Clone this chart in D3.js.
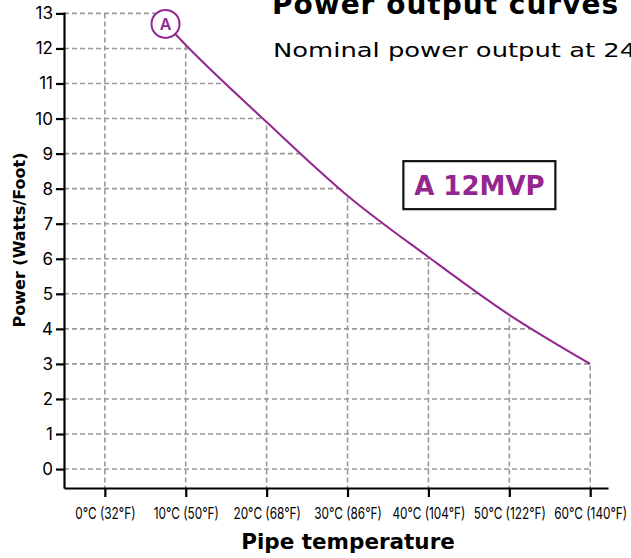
<!DOCTYPE html>
<html lang="en">
<head>
  <meta charset="UTF-8">
  <title>Power output curves</title>
  <script src="https://d3js.org/d3.v7.min.js"></script>
  <style>
    body { margin: 0; background: #fff; }
    svg { display: block; }
  </style>
</head>
<body>
  <div id="canvas"></div>
  <script>
    // curve A 12MVP
    const temps = [7.5, 10, 20, 30, 40, 50, 60];
    const power = [12.7, 12.1, 9.9, 7.8, 6.05, 4.4, 3.0];

    const xTicks = [0, 10, 20, 30, 40, 50, 60];
    const xTickLabels = ['0°C (32°F)', '10°C (50°F)', '20°C (68°F)', '30°C (86°F)', '40°C (104°F)', '50°C (122°F)', '60°C (140°F)'];
    const yTicks = [0, 1, 2, 3, 4, 5, 6, 7, 8, 9, 10, 11, 12, 13];

    const width = 631;
    const height = 558;
    const purple = '#93278f';
    const font = "Inter, 'Noto Sans', sans-serif";
    const wide = "'DejaVu Sans', sans-serif";

    const x = d3.scaleLinear().domain([-5.05, 62.2]).range([64, 608]);
    const y = d3.scaleLinear().domain([-0.54, 13.04]).range([488, 12]);

    const svg = d3.select('#canvas')
      .append('svg')
      .attr('width', width)
      .attr('height', height);

    const pts = temps.map((t, i) => [t, power[i]]);
    const curve = d3.curveMonotoneX;

    // grid only shows under the curve
    const clip = svg.append('clipPath').attr('id', 'under');
    clip.append('path')
      .attr('d', d3.area().x(d => x(d[0])).y0(y(-0.54)).y1(d => y(d[1])).curve(curve)(pts));
    clip.append('rect')
      .attr('x', x(-5.05)).attr('y', y(13) - 2)
      .attr('width', x(temps[0]) - x(-5.05)).attr('height', y(-0.54) - y(13) + 2);
    clip.append('rect')
      .attr('x', x(60) - 2).attr('y', y(power[power.length - 1]))
      .attr('width', 4).attr('height', y(-0.54) - y(power[power.length - 1]));

    const grid = svg.append('g').attr('clip-path', 'url(#under)')
      .attr('stroke', '#999').attr('stroke-width', 1.6).attr('stroke-dasharray', '5,3');
    grid.selectAll('.hg').data(yTicks).enter().append('line')
      .attr('x1', x(-5.05)).attr('x2', x(62.2))
      .attr('y1', d => y(d)).attr('y2', d => y(d));
    grid.selectAll('.vg').data(xTicks).enter().append('line')
      .attr('x1', d => x(d)).attr('x2', d => x(d))
      .attr('y1', y(13)).attr('y2', y(-0.54));

    // axes
    const xAxis = d3.axisBottom(x).tickValues(xTicks).tickSize(9).tickSizeOuter(0).tickFormat((d, i) => xTickLabels[i]);
    const gx = svg.append('g')
      .attr('transform', 'translate(0,' + y(-0.54) + ')')
      .call(xAxis);
    gx.select('.domain').attr('stroke', '#000').attr('stroke-width', 2.2);
    gx.selectAll('.tick line').attr('stroke', '#000').attr('stroke-width', 2.2);
    // the labels are set in a narrow face, so squeeze them
    gx.selectAll('.tick text')
      .attr('y', 0)
      .attr('dy', 0)
      .attr('transform', 'translate(0,31) scale(0.74,1)')
      .style('font-family', font)
      .style('font-size', '16px')
      .attr('fill', '#000');

    const yAxis = d3.axisLeft(y).tickValues(yTicks).tickSize(8).tickSizeOuter(0);
    const gy = svg.append('g')
      .attr('transform', 'translate(' + x(-5.05) + ',0)')
      .call(yAxis);
    gy.select('.domain').attr('stroke', '#000').attr('stroke-width', 2.2);
    gy.selectAll('.tick line').attr('stroke', '#000').attr('stroke-width', 2.2);
    gy.selectAll('.tick text')
      .attr('x', -11)
      .style('font-family', font)
      .style('font-size', '17px')
      .attr('fill', '#000');

    // curve
    svg.append('path')
      .datum(pts)
      .attr('fill', 'none')
      .attr('stroke', purple)
      .attr('stroke-width', 2)
      .attr('d', d3.line().x(d => x(d[0])).y(d => y(d[1])).curve(curve));

    // curve marker
    svg.append('circle')
      .attr('cx', x(temps[0])).attr('cy', y(power[0]))
      .attr('r', 14)
      .attr('fill', '#fff')
      .attr('stroke', purple)
      .attr('stroke-width', 2);
    svg.append('text')
      .attr('x', x(temps[0])).attr('y', y(power[0]) + 6)
      .attr('text-anchor', 'middle')
      .attr('fill', purple)
      .style('font-family', font)
      .style('font-size', '16px')
      .style('font-weight', 600)
      .text('A');

    // legend box
    const bx = x(46.3), by = y(8.1);
    svg.append('rect')
      .attr('x', bx - 76).attr('y', by - 24)
      .attr('width', 152).attr('height', 48)
      .attr('fill', '#fff')
      .attr('stroke', '#111')
      .attr('stroke-width', 2.2);
    svg.append('text')
      .attr('x', bx).attr('y', by + 10)
      .attr('text-anchor', 'middle')
      .attr('fill', purple)
      .style('font-family', wide)
      .style('font-size', '26px')
      .style('font-weight', 'bold')
      .text('A 12MVP');

    // titles
    svg.append('text')
      .attr('x', 272).attr('y', 14)
      .style('font-family', wide)
      .style('font-size', '28px')
      .style('font-weight', 'bold')
      .style('letter-spacing', '1px')
      .text('Power output curves');
    const sub = svg.append('text')
      .attr('x', 273).attr('y', 57)
      .style('font-family', wide)
      .style('font-size', '20px')
      .text('Nominal power output at 240V');
    // the original face is much wider than DejaVu
    sub.attr('textLength', sub.node().getComputedTextLength() * 1.29).attr('lengthAdjust', 'spacingAndGlyphs');

    svg.append('text')
      .attr('text-anchor', 'middle')
      .attr('transform', 'translate(25,240) rotate(-90)')
      .style('font-family', wide)
      .style('font-size', '16px')
      .style('font-weight', 'bold')
      .text('Power (Watts/Foot)');
    svg.append('text')
      .attr('text-anchor', 'middle')
      .attr('x', 348).attr('y', 549)
      .style('font-family', wide)
      .style('font-size', '21.5px')
      .style('font-weight', 'bold')
      .text('Pipe temperature');
  </script>
</body>
</html>
